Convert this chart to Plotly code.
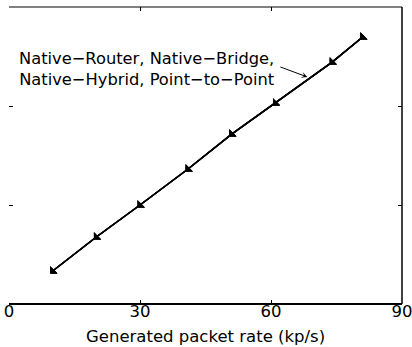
import plotly.graph_objects as go

# Data
generated_rate = [10, 20, 30, 41, 51, 61, 74, 81]
received_rate = [10, 20.3, 30, 40.9, 51.5, 60.9, 73.3, 80.9]
series_names = ["Native-Router", "Native-Bridge", "Native-Hybrid", "Point-to-Point"]
series_symbols = ["triangle-sw", "triangle-sw", "triangle-sw", "triangle-sw"]
x_tick_vals = [0, 30, 60, 90]
x_tick_text = ["0", "30", "60", "90"]
y_tick_vals = [0, 30, 60, 90]
x_title = "Generated packet rate (kp/s)"
label_text = "Native\u2212Router, Native\u2212Bridge,<br>Native\u2212Hybrid, Point\u2212to\u2212Point"

FONT = "DejaVu Sans, Liberation Sans, Arial, sans-serif"
FS = 16.5

fig = go.Figure()
for name, sym in zip(series_names, series_symbols):
    fig.add_trace(go.Scatter(
        x=generated_rate, y=received_rate, name=name,
        mode="lines+markers",
        line=dict(color="black", width=1.5),
        marker=dict(symbol=sym, size=8, color="black"),
        showlegend=False,
    ))

fig.add_annotation(
    x=68.3, y=68.8, xref="x", yref="y",
    ax=61.8, ay=72.0, axref="x", ayref="y",
    text="", showarrow=True, arrowhead=3, arrowsize=1, arrowwidth=1,
    arrowcolor="black",
)
fig.add_annotation(
    x=31.6, y=71.2, xref="x", yref="y",
    text=label_text, showarrow=False,
    font=dict(family=FONT, size=16.3, color="black"),
    align="center",
)
fig.add_annotation(
    x=0.5, y=-0.108, xref="paper", yref="paper",
    text=x_title, showarrow=False, yanchor="middle", xanchor="center",
    font=dict(family=FONT, size=FS, color="black"),
)

frame = [
    dict(x0=0, x1=1, y0=0, y1=0, w=2),    # bottom
    dict(x0=0, x1=1, y0=1, y1=1, w=1),    # top
    dict(x0=1, x1=1, y0=0, y1=1, w=1.5),  # right
]

fig.update_layout(
    width=412, height=347,
    margin=dict(l=9, r=10, t=7, b=43),
    paper_bgcolor="white", plot_bgcolor="white",
    font=dict(family=FONT, size=FS, color="black"),
    xaxis=dict(
        range=[0, 90], tickmode="array", tickvals=x_tick_vals, ticktext=x_tick_text,
        ticks="inside", ticklen=4, tickcolor="black", tickwidth=1,
        showline=False, mirror="ticks",
        showgrid=False, zeroline=False,
        tickfont=dict(size=FS),
        ticklabeloverflow="allow", ticklabelstandoff=-5,
        automargin=False,
    ),
    yaxis=dict(
        range=[0, 90], tickmode="array", tickvals=y_tick_vals,
        ticks="inside", ticklen=4, tickcolor="black", tickwidth=1,
        showline=False, mirror="ticks", showticklabels=False,
        showgrid=False, zeroline=False,
    ),
    shapes=[dict(type="line", xref="paper", yref="paper",
                 x0=f["x0"], x1=f["x1"], y0=f["y0"], y1=f["y1"],
                 line=dict(color="black", width=f["w"])) for f in frame],
)

fig.write_html("out.html")
